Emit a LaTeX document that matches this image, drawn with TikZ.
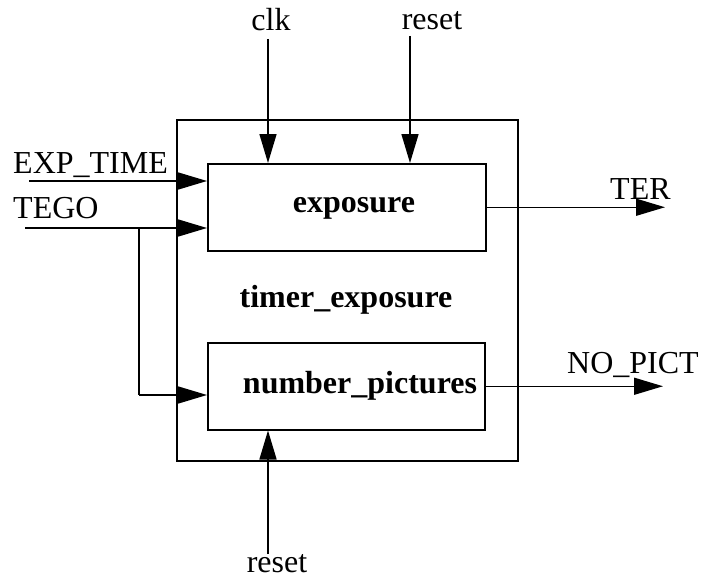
\documentclass[tikz,border=0pt]{standalone}
\usepackage{fontspec}
\setmainfont{Liberation Serif}
\usetikzlibrary{arrows.meta}
\begin{document}
\begin{tikzpicture}[x=1pt,y=-1pt,
  font=\fontsize{32}{38}\selectfont,
  block/.style={draw,line width=1.5pt,inner sep=0pt,anchor=north west},
  sig/.style={line width=1.5pt,-{Triangle[length=29pt,width=17pt]}},
  wire/.style={line width=1.5pt},
  lbl/.style={inner sep=0pt,anchor=base},
  lblw/.style={inner sep=0pt,anchor=base west},
  blbl/.style={inner sep=0pt,anchor=base,font=\fontsize{32}{38}\selectfont\bfseries}]
\useasboundingbox (0,0) rectangle (702,578);

% enclosing entity and its two sub-blocks
\node[block,minimum width=341pt,minimum height=341pt] (outer) at (176,119) {};
\node[block,minimum width=278pt,minimum height=87pt] (exp) at (207,163) {};
\node[block,minimum width=277pt,minimum height=87pt] (num) at (207,342) {};

\node[blbl] (explbl) at (354,212) {exposure};
\node[blbl] (timerlbl) at (346,307) {timer\_exposure};
\node[blbl] (numlbl) at (360,393) {number\_pictures};

% port labels
\node[lbl] (clklbl) at (271,31) {clk};
\node[lbl] (rstlbl) at (432,30) {reset};
\node[lblw] (explbl2) at (13,173) {EXP\_TIME};
\node[lblw] (tegolbl) at (13,218) {TEGO};
\node[lblw] (terlbl) at (610,199) {TER};
\node[lblw] (nplbl) at (567,373) {NO\_PICT};
\node[lbl] (rstlbl2) at (277,572) {reset};

% free ends of the signal lines
\coordinate (clk) at (268,39);
\coordinate (rst) at (410,36);
\coordinate (exptime) at (29,181);
\coordinate (tego) at (25,228);
\coordinate (branch) at (139,228);
\coordinate (corner) at (139,395);
\coordinate (ter) at (665,0);
\coordinate (nopict) at (663,0);
\coordinate (rstb) at (268,554);

% inputs
\draw[sig] (clk) -- (clk |- exp.north);
\draw[sig] (rst) -- (rst |- exp.north);
\draw[sig] (exptime) -- (exp.west |- exptime);
\draw[sig] (tego) -- (exp.west |- tego);
\draw[wire] (branch) -- (corner);
\draw[sig] (corner) -- (num.west |- corner);
\draw[sig] (rstb) -- (rstb |- num.south);

% outputs
\draw[sig] (exp.east) -- (ter |- exp.east);
\draw[sig] (num.east) -- (nopict |- num.east);
\end{tikzpicture}
\end{document}
